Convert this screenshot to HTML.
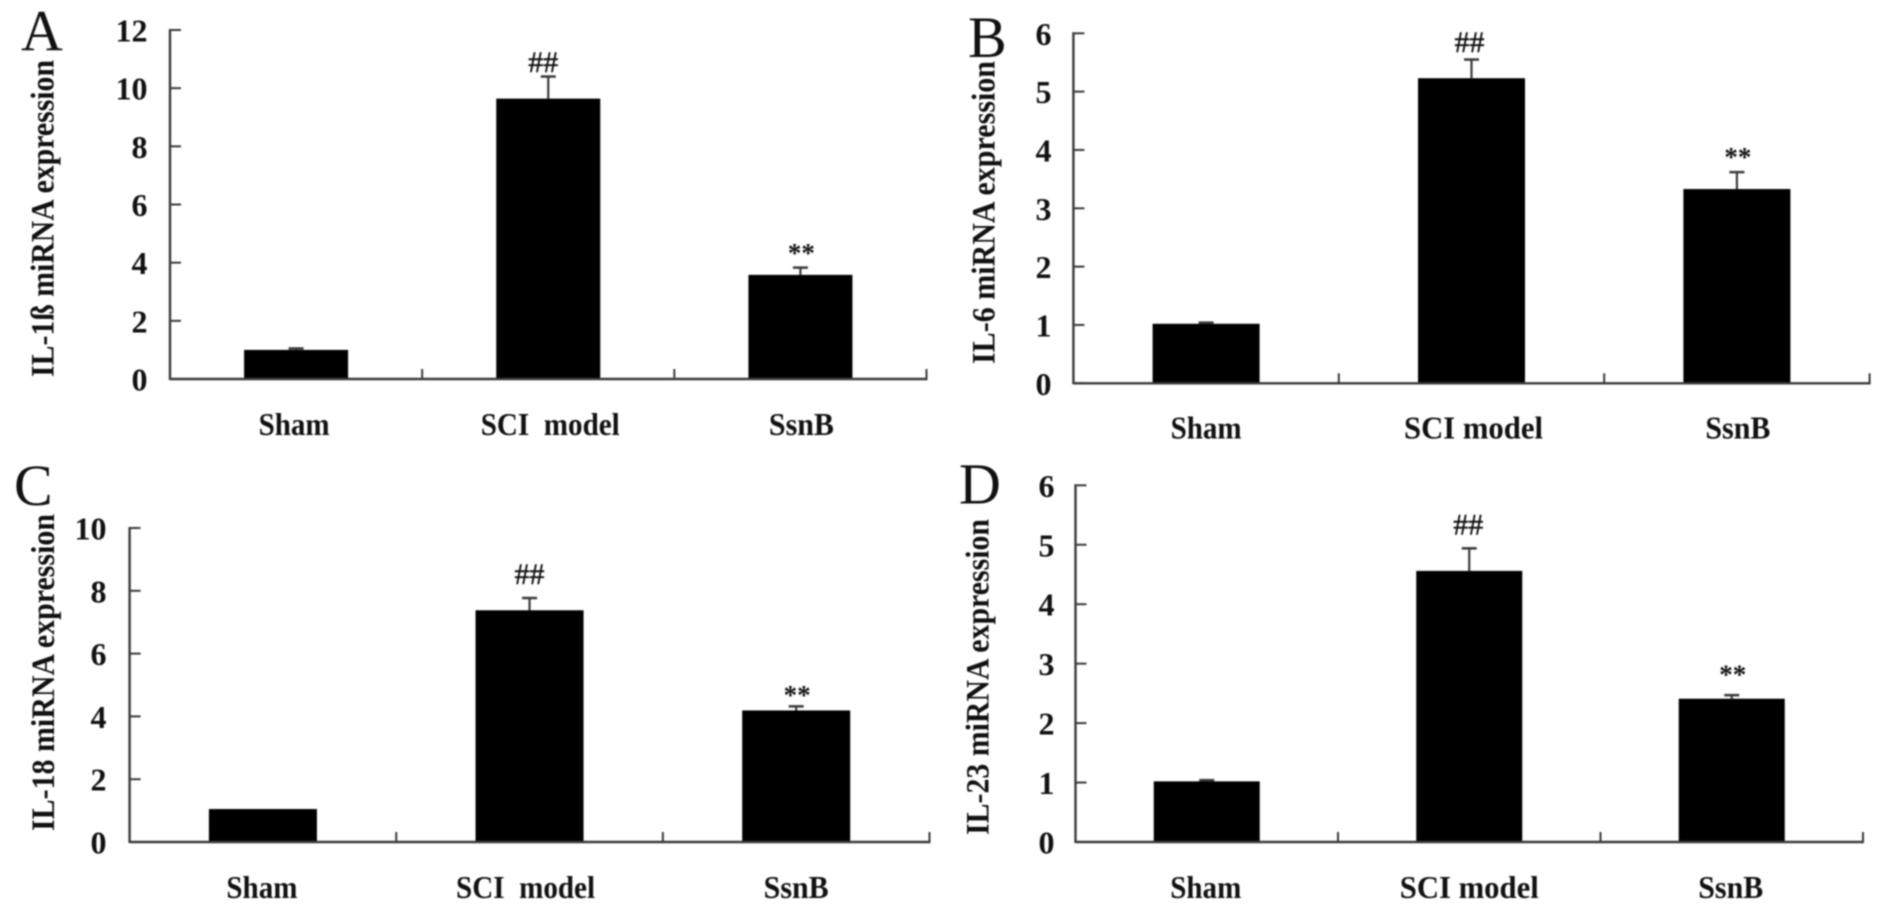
<!DOCTYPE html>
<html lang="en">
<head>
<meta charset="utf-8">
<title>Cytokine miRNA expression panels</title>
<style>
html,body{margin:0;padding:0;background:#fff;width:1890px;height:914px;overflow:hidden}
svg{display:block;filter:blur(0.7px)}
text{font-family:"Liberation Serif",serif;fill:#111;white-space:pre}
.num,.cat,.ytitle{font-weight:bold}
</style>
</head>
<body>
<svg id="figure" xmlns="http://www.w3.org/2000/svg" width="1890" height="914" viewBox="0 0 1890 914"></svg>
<script>
const categories = ['Sham', 'SCI model', 'SsnB'];
const annotations = ['', '##', '**'];

const ticksA = [0, 2, 4, 6, 8, 10, 12];
const valuesA = [1.0, 9.64, 3.58];
const errorsA = [0.05, 0.76, 0.25];

const ticksB = [0, 1, 2, 3, 4, 5, 6];
const valuesB = [1.02, 5.23, 3.33];
const errorsB = [0.02, 0.32, 0.29];

const ticksC = [0, 2, 4, 6, 8, 10];
const valuesC = [1.05, 7.38, 4.19];
const errorsC = [0, 0.39, 0.13];

const ticksD = [0, 1, 2, 3, 4, 5, 6];
const valuesD = [1.02, 4.56, 2.41];
const errorsD = [0.02, 0.38, 0.06];

const panels = [
  {id:'a', letter:'A', title:'IL-1ß miRNA expression', ticks:ticksA, values:valuesA, errors:errorsA,
   left:170, right:926.5, top:30, base:379, barW:104, tickLabelX:147.5, catY:435, catDx:[-2,2,1], wideGap:true,
   letterX:21, letterY:50.5, titleX:53.5, titleBottom:377, titleLen:317, hashGap:4.5, hashDx:-5, starGap:5.5},
  {id:'b', letter:'B', title:'IL-6 miRNA expression', ticks:ticksB, values:valuesB, errors:errorsB,
   left:1073.4, right:1869.6, top:33.3, base:383.3, barW:107, tickLabelX:1051.5, catY:438.5, catDx:[0,2,1], wideGap:false,
   letterX:968, letterY:57, titleX:994.4, titleBottom:364, titleLen:303, hashGap:7.6, hashDx:-2, starGap:6},
  {id:'c', letter:'C', title:'IL-18 miRNA expression', ticks:ticksC, values:valuesC, errors:errorsC,
   left:129.6, right:929.5, top:528, base:842, barW:108, tickLabelX:106.5, catY:898, catDx:[-1,-4,0], wideGap:true,
   letterX:14, letterY:505, titleX:54, titleBottom:831, titleLen:317, hashGap:14, hashDx:0, starGap:2.5},
  {id:'d', letter:'D', title:'IL-23 miRNA expression', ticks:ticksD, values:valuesD, errors:errorsD,
   left:1075.5, right:1863, top:485.3, base:842, barW:106, tickLabelX:1054.5, catY:898, catDx:[-1,0,-1], wideGap:false,
   letterX:959, letterY:503.5, titleX:988.4, titleBottom:835, titleLen:316, hashGap:14, hashDx:-1, starGap:11.5}
];

const NS = 'http://www.w3.org/2000/svg';
const AXIS = '#3a3a3a';

function make(parent, tag, attrs, content) {
  const node = document.createElementNS(NS, tag);
  for (const key in attrs) node.setAttribute(key, attrs[key]);
  if (content !== undefined) node.textContent = content;
  parent.appendChild(node);
  return node;
}

function drawPanel(root, p) {
  const maxTick = p.ticks[p.ticks.length - 1];
  const yScale = function (v) { return p.base - (v / maxTick) * (p.base - p.top); };
  const band = (p.right - p.left) / categories.length;
  const xCenter = function (i) { return p.left + (i + 0.5) * band; };

  const g = make(root, 'g', {});
  
  

  const letter = make(g, 'text', {x:p.letterX, y:p.letterY, 'font-size':58}, p.letter);
  
  

  const title = make(g, 'text', {
    class:'ytitle', 'font-size':33, textLength:p.titleLen, lengthAdjust:'spacingAndGlyphs',
    transform:'translate(' + p.titleX + ' ' + p.titleBottom + ') rotate(-90)', x:0, y:0
  }, p.title);
  
  

  p.values.forEach(function (value, i) {
    const cx = xCenter(i);
    const errTop = yScale(value + p.errors[i]);

    if (p.errors[i] > 0) {
      const stem = make(g, 'line', {x1:cx, x2:cx, y1:yScale(value), y2:errTop, stroke:AXIS, 'stroke-width':2.2});
      
      

      const cap = make(g, 'line', {x1:cx - 7.5, x2:cx + 7.5, y1:errTop, y2:errTop, stroke:AXIS, 'stroke-width':2.5});
      
      
    }

    const bar = make(g, 'rect', {x:cx - p.barW / 2, y:yScale(value), width:p.barW, height:p.base - yScale(value), fill:'#000'});
    
    

    const labelText = p.wideGap ? categories[i].replace(' ', '  ') : categories[i];
    const label = make(g, 'text', {
      class:'cat', x:cx + p.catDx[i], y:p.catY, 'font-size':32, 'text-anchor':'middle',
      textLength:[71, 139, 65][i], lengthAdjust:'spacingAndGlyphs'
    }, labelText);
    
    

    if (annotations[i] === '##') {
      const hash = make(g, 'text', {x:cx + p.hashDx, y:errTop - p.hashGap, 'font-size':30, 'text-anchor':'middle', stroke:'#111', 'stroke-width':0.4}, annotations[i]);
      
      
    }
    if (annotations[i] === '**') {
      const star = make(g, 'text', {x:cx + 1, y:errTop - p.starGap, 'font-size':27, 'font-weight':'bold', 'text-anchor':'middle'}, annotations[i]);
      
      
    }
  });

  const yAxis = make(g, 'line', {x1:p.left, x2:p.left, y1:p.top - 1, y2:p.base + 1, stroke:AXIS, 'stroke-width':2.4});
  
  

  const xAxis = make(g, 'line', {x1:p.left, x2:p.right + 1, y1:p.base, y2:p.base, stroke:AXIS, 'stroke-width':2.4});
  
  

  p.ticks.forEach(function (tick) {
    const mark = make(g, 'line', {x1:p.left, x2:p.left + 11, y1:yScale(tick), y2:yScale(tick), stroke:AXIS, 'stroke-width':2});
    
    

    const tickLabel = make(g, 'text', {class:'num', x:p.tickLabelX, y:yScale(tick) + 11.5, 'font-size':32, 'text-anchor':'end'}, tick);
    
    
  });

  categories.forEach(function (c, i) {
    const x = p.left + (i + 1) * band;
    const mark = make(g, 'line', {x1:x, x2:x, y1:p.base, y2:p.base - 10, stroke:AXIS, 'stroke-width':2});
    
    
  });
}

const figure = document.getElementById('figure');
panels.forEach(function (p) { drawPanel(figure, p); });
</script>
</body>
</html>
